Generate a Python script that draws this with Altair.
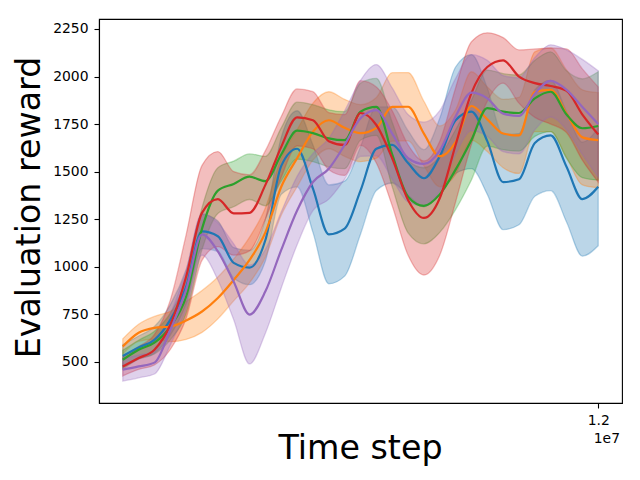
import altair as alt
import pandas as pd

# time steps (x values)
steps = [0, 400000, 800000, 1200000, 1600000, 2000000, 2400000, 2800000, 3200000,
         3600000, 4000000, 4400000, 4800000, 5200000, 5600000, 6000000, 6400000,
         6800000, 7200000, 7600000, 8000000, 8400000, 8800000, 9200000, 9600000,
         10000000, 10400000, 10800000, 11200000, 11600000, 12000000]

blue_mean = [530, 575, 615, 720, 895, 1185, 1160, 1020, 995, 1140, 1530, 1620, 1410, 1170, 1200, 1400,
             1620, 1640, 1545, 1465, 1580, 1770, 1815, 1660, 1445, 1460, 1650, 1690, 1525, 1355, 1420]
blue_std = [60, 60, 70, 80, 90, 90, 80, 80, 90, 110, 150, 200, 230, 260, 250, 230,
            220, 200, 170, 150, 200, 280, 300, 280, 250, 240, 280, 290, 290, 300, 310]

orange_mean = [580, 652, 678, 685, 717, 764, 835, 930, 1035, 1180, 1420, 1570, 1710, 1770, 1730, 1702,
               1730, 1840, 1841, 1700, 1580, 1655, 1845, 1775, 1700, 1690, 1920, 1930, 1805, 1680, 1665]
orange_std = [40, 45, 60, 80, 100, 110, 110, 110, 120, 130, 150, 150, 150, 150, 150, 150,
              160, 180, 180, 170, 160, 170, 180, 170, 180, 200, 210, 220, 230, 250, 250]

green_mean = [510, 563, 600, 685, 843, 1200, 1400, 1435, 1473, 1450, 1590, 1715, 1702, 1675, 1665, 1815,
              1840, 1590, 1368, 1320, 1380, 1510, 1666, 1834, 1815, 1808, 1885, 1920, 1800, 1728, 1740]
green_std = [50, 50, 60, 70, 90, 110, 120, 120, 120, 130, 140, 150, 150, 150, 150, 150,
             150, 170, 190, 200, 200, 210, 210, 200, 200, 200, 200, 210, 230, 260, 285]

red_mean = [475, 519, 563, 694, 948, 1283, 1355, 1280, 1283, 1430, 1630, 1785, 1770, 1660, 1640, 1808,
            1745, 1570, 1351, 1256, 1360, 1640, 1913, 2050, 2085, 2000, 1965, 1950, 1925, 1800, 1695]
red_std = [50, 60, 80, 130, 220, 250, 250, 220, 200, 180, 160, 150, 150, 150, 160, 170,
           200, 250, 290, 300, 300, 300, 270, 180, 120, 140, 180, 200, 220, 240, 250]

purple_mean = [458, 475, 495, 668, 878, 1170, 1080, 920, 748, 870, 1088, 1295, 1445, 1515, 1640, 1780,
               1823, 1700, 1570, 1540, 1610, 1790, 1915, 1885, 1805, 1793, 1910, 1977, 1930, 1840, 1750]
purple_std = [60, 60, 60, 80, 100, 110, 150, 200, 260, 220, 200, 180, 150, 160, 180, 200,
              240, 240, 230, 220, 210, 200, 200, 200, 200, 200, 190, 190, 210, 250, 280]

names = ["Run A", "Run B", "Run C", "Run D", "Run E"]
colors = ["#1f77b4", "#ff7f0e", "#2ca02c", "#d62728", "#9467bd"]
y_ticks = [500, 750, 1000, 1250, 1500, 1750, 2000, 2250]
x_ticks = [12000000]

series = [
    (names[0], blue_mean, blue_std),
    (names[1], orange_mean, orange_std),
    (names[2], green_mean, green_std),
    (names[3], red_mean, red_std),
    (names[4], purple_mean, purple_std),
]
rows = []
for k, (name, m, s) in enumerate(series):
    for t, mv, sv in zip(steps, m, s):
        rows.append({"series": name, "order": k, "step": t, "mean": mv,
                     "lo": mv - sv, "hi": mv + sv})
df = pd.DataFrame(rows)

color = alt.Color("series:N", scale=alt.Scale(domain=names, range=colors), legend=None)

x_axis = alt.Axis(values=x_ticks, labelExpr="'1.2'", title="Time step",
                  titleX=261, titleY=55, titleBaseline="alphabetic", titleAlign="center",
                  labelPadding=5)
x_scale = alt.Scale(domain=[-600000, 12600000], nice=False, zero=False)
y_scale = alt.Scale(domain=[282.6, 2302.6], nice=False, zero=False)
y_axis = alt.Axis(values=y_ticks, format="d", title="Evaluation reward",
                  titleX=-60, titleY=188, titleAngle=270, titleBaseline="alphabetic",
                  titleAlign="center", labelPadding=6)

base = alt.Chart(df)

bands = base.mark_area(interpolate="monotone", fillOpacity=0.3, strokeOpacity=0.3,
                       strokeWidth=1.3).encode(
    x=alt.X("step:Q", scale=x_scale, axis=x_axis),
    y=alt.Y("lo:Q", scale=y_scale, axis=y_axis),
    y2="hi:Q",
    color=color,
    stroke=alt.Stroke("series:N", scale=alt.Scale(domain=names, range=colors), legend=None),
    detail="series:N",
)

lines = base.mark_line(interpolate="monotone", strokeWidth=2.2).encode(
    x=alt.X("step:Q", scale=x_scale, axis=x_axis),
    y=alt.Y("mean:Q", scale=y_scale, axis=y_axis),
    color=color,
    order="order:Q",
)

offset_text = alt.Chart(pd.DataFrame({"label": ["1e7"]})).mark_text(
    align="right", baseline="alphabetic", fontSize=13.9, font="DejaVu Sans", color="black"
).encode(text="label:N", x=alt.value(521), y=alt.value(424))

chart = alt.layer(bands, lines, offset_text).properties(
    width=523,
    height=384,
    autosize=alt.AutoSizeParams(type="none"),
    padding={"left": 91, "top": 11, "right": 10, "bottom": 70},
).configure_view(
    stroke="black", strokeWidth=1.1
).configure_axis(
    labelFont="DejaVu Sans", titleFont="DejaVu Sans",
    labelFontSize=13.9, titleFontSize=33.3, titleFontWeight="normal",
    labelColor="black", titleColor="black", tickColor="black", domainColor="black",
    grid=False, tickSize=5, tickWidth=1.1, domainWidth=1.1,
)

chart.save("out.html", embed_options={"renderer": "svg", "actions": False})
